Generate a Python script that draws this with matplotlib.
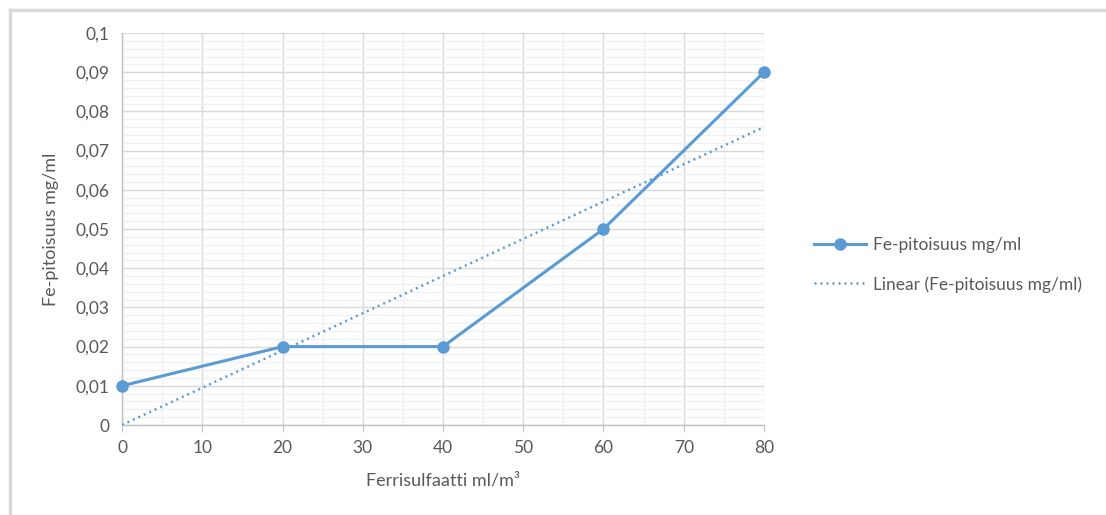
import numpy as np
import matplotlib
matplotlib.use("Agg")
import matplotlib.pyplot as plt
from matplotlib.ticker import MultipleLocator, FuncFormatter
from matplotlib.lines import Line2D

plt.rcParams['font.family'] = ['Lato', 'DejaVu Sans']

# data
ferri = [0, 20, 40, 60, 80]
fe = [0.01, 0.02, 0.02, 0.05, 0.09]
series_name = 'Fe-pitoisuus mg/ml'
trend_name = 'Linear (Fe-pitoisuus mg/ml)'
x_title = 'Ferrisulfaatti ml/m³'
y_title = 'Fe-pitoisuus mg/ml'

blue = '#5b9bd5'
grid_major = '#d9d9d9'
grid_minor = '#f0f0f0'
txt = '#595959'

fig = plt.figure(figsize=(11.06, 5.15), dpi=100)
ax = fig.add_axes([122/1106, 1 - 425/515, (764-122)/1106, (425-33)/515])

# trendline like excel (least squares)
k, b = np.polyfit(ferri, fe, 1)
xt = np.array([min(ferri), max(ferri)])
ax.plot(xt, k*xt + b, color=blue, lw=1.8, ls=(0, (0.8, 1.6)), zorder=3)

ax.plot(ferri, fe, color=blue, lw=2.2, marker='o', ms=8, zorder=4, clip_on=False)

ax.set_xlim(0, 80)
ax.set_ylim(0, 0.1)
ax.xaxis.set_major_locator(MultipleLocator(10))
ax.xaxis.set_minor_locator(MultipleLocator(5))
ax.yaxis.set_major_locator(MultipleLocator(0.01))
ax.yaxis.set_minor_locator(MultipleLocator(0.002))
ax.yaxis.set_major_formatter(FuncFormatter(lambda v, p: f"{round(v, 3):g}".replace('.', ',')))

ax.grid(which='major', color=grid_major, lw=1.0, zorder=0)
ax.grid(which='minor', color=grid_minor, lw=1.0, zorder=0)
ax.set_axisbelow(True)

for s in ['top', 'right']:
    ax.spines[s].set_visible(False)
for s in ['left', 'bottom']:
    ax.spines[s].set_color('#bfbfbf')
    ax.spines[s].set_linewidth(1.0)

ax.tick_params(which='major', direction='out', length=5, color='#bfbfbf',
               labelsize=12.5, labelcolor=txt, pad=6)
ax.tick_params(which='minor', length=0)
ax.tick_params(axis='y', length=0, pad=9)

ax.set_xlabel(x_title, fontsize=13, color=txt, labelpad=12)
ax.set_ylabel(y_title, fontsize=13, color=txt, labelpad=12)

handles = [
    Line2D([], [], color=blue, lw=2.2, marker='o', ms=8),
    Line2D([], [], color=blue, lw=1.8, ls=(0, (0.8, 1.6))),
]
fig.legend(handles, [series_name, trend_name], loc='center left',
           bbox_to_anchor=(798/1106, 1 - 265/515), frameon=False,
           fontsize=12.5, labelcolor=txt, handlelength=3.0, handletextpad=0.4,
           labelspacing=1.3)

# chart border (only top and left visible in the crop)
fig.add_artist(Line2D([10/1106, 1], [1 - 10/515, 1 - 10/515], color='#d9d9d9', lw=2.5))
fig.add_artist(Line2D([10/1106, 10/1106], [0, 1 - 10/515], color='#d9d9d9', lw=2.5))

fig.savefig('out.png', dpi=100, facecolor='white')
